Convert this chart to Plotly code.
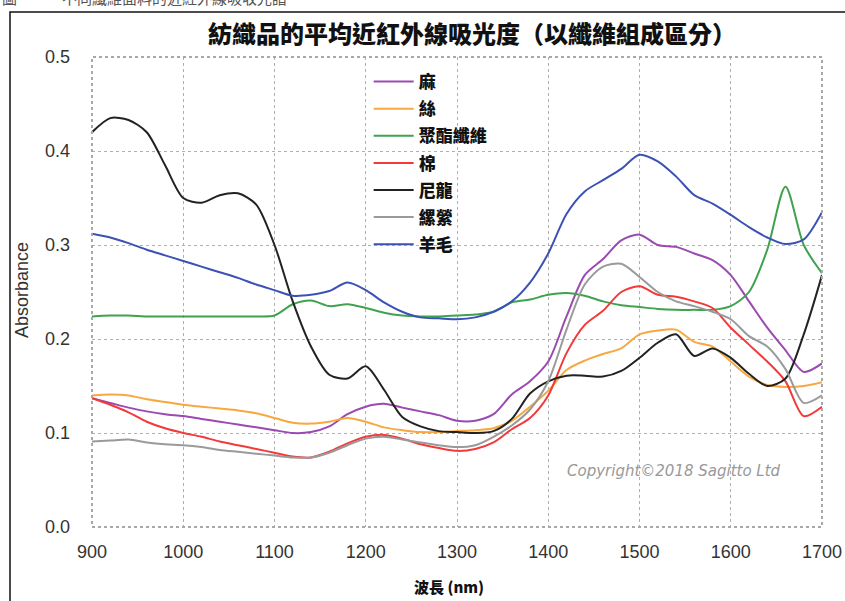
import plotly.graph_objects as go

wavelength = list(range(900, 1701, 20))

hemp = [0.137, 0.132, 0.127, 0.123, 0.120, 0.118, 0.115, 0.112, 0.109, 0.106,
        0.103, 0.100, 0.101, 0.107, 0.120, 0.128, 0.131, 0.127, 0.123, 0.119,
        0.113, 0.113, 0.120, 0.141, 0.155, 0.176, 0.224, 0.268, 0.285, 0.305,
        0.311, 0.300, 0.298, 0.291, 0.284, 0.268, 0.240, 0.212, 0.188, 0.165, 0.174]
silk = [0.140, 0.141, 0.140, 0.136, 0.133, 0.130, 0.128, 0.126, 0.124, 0.121,
        0.116, 0.111, 0.110, 0.112, 0.116, 0.112, 0.106, 0.103, 0.101, 0.101,
        0.102, 0.103, 0.105, 0.113, 0.128, 0.145, 0.167, 0.177, 0.184, 0.190,
        0.205, 0.209, 0.210, 0.197, 0.192, 0.176, 0.160, 0.151, 0.149, 0.150, 0.154]
polyester = [0.224, 0.225, 0.225, 0.224, 0.224, 0.224, 0.224, 0.224, 0.224, 0.224,
             0.225, 0.237, 0.241, 0.235, 0.237, 0.233, 0.228, 0.225, 0.224, 0.224,
             0.225, 0.226, 0.229, 0.239, 0.242, 0.247, 0.249, 0.246, 0.240, 0.236,
             0.234, 0.232, 0.231, 0.231, 0.231, 0.235, 0.250, 0.295, 0.362, 0.300, 0.270]
cotton = [0.137, 0.130, 0.122, 0.112, 0.105, 0.100, 0.096, 0.091, 0.087, 0.083,
          0.079, 0.075, 0.074, 0.080, 0.089, 0.096, 0.098, 0.094, 0.088, 0.084,
          0.081, 0.083, 0.090, 0.104, 0.116, 0.140, 0.185, 0.215, 0.230, 0.250,
          0.256, 0.247, 0.245, 0.240, 0.233, 0.212, 0.194, 0.176, 0.155, 0.118, 0.128]
nylon = [0.420, 0.435, 0.433, 0.420, 0.385, 0.350, 0.345, 0.353, 0.355, 0.343,
         0.300, 0.240, 0.192, 0.162, 0.158, 0.171, 0.146, 0.117, 0.107, 0.102,
         0.101, 0.100, 0.102, 0.115, 0.142, 0.155, 0.161, 0.161, 0.160, 0.166,
         0.180, 0.196, 0.205, 0.182, 0.190, 0.180, 0.163, 0.150, 0.158, 0.205, 0.268]
rayon = [0.091, 0.092, 0.093, 0.090, 0.088, 0.087, 0.085, 0.082, 0.080, 0.078,
         0.076, 0.074, 0.074, 0.079, 0.087, 0.094, 0.096, 0.093, 0.090, 0.087,
         0.085, 0.087, 0.096, 0.108, 0.125, 0.155, 0.210, 0.258, 0.277, 0.280,
         0.266, 0.250, 0.240, 0.235, 0.229, 0.221, 0.203, 0.192, 0.168, 0.132, 0.140]
wool = [0.312, 0.308, 0.302, 0.295, 0.289, 0.283, 0.277, 0.271, 0.265, 0.258,
        0.252, 0.246, 0.247, 0.251, 0.260, 0.252, 0.239, 0.229, 0.223, 0.222,
        0.221, 0.223, 0.229, 0.240, 0.260, 0.291, 0.333, 0.357, 0.369, 0.381,
        0.396, 0.389, 0.373, 0.353, 0.344, 0.332, 0.319, 0.308, 0.301, 0.306, 0.335]

series_names = ["麻", "絲", "聚酯纖維", "棉", "尼龍", "縲縈", "羊毛"]
series_values = [hemp, silk, polyester, cotton, nylon, rayon, wool]
series_colors = ["#9a4ab0", "#f7a840", "#3fa24e", "#f23a3a", "#222222", "#9a9a9a", "#3b52b4"]

title_text = "紡織品的平均近紅外線吸光度（以纖維組成區分）"
x_title = "波長 (nm)"
y_title = "Absorbance"
copyright_text = "Copyright©2018 Sagitto Ltd"
caption_text = "圖　　　不同纖維面料的近紅外線吸收光譜"

fig = go.Figure()
for i, (name, vals, col) in enumerate(zip(series_names, series_values, series_colors)):
    fig.add_trace(go.Scatter(
        x=wavelength, y=vals, name=name, mode="lines",
        line=dict(color=col, width=2, shape="spline", smoothing=0.8),
        legendgroup=f"g{i}",
    ))

CJK = "Noto Sans CJK TC"
fig.update_layout(
    width=845, height=601,
    margin=dict(l=92, r=23, t=57, b=74, autoexpand=False),
    paper_bgcolor="white", plot_bgcolor="white",
    showlegend=True,
    legend=dict(x=0.379, y=0.985, xanchor="left", yanchor="top",
                bgcolor="rgba(0,0,0,0)", traceorder="grouped", tracegroupgap=2,
                font=dict(family=CJK, size=17, color="#111", weight=900), itemwidth=40),
    xaxis=dict(range=[900, 1700], dtick=100, tick0=900, showgrid=True,
               gridcolor="#b0b0b0", griddash="dot", gridwidth=1, automargin=False,
               zeroline=False, showline=False, ticks="",
               ticklabelstandoff=12,
               tickfont=dict(family="Liberation Sans", size=18, color="#333")),
    yaxis=dict(range=[0, 0.5], dtick=0.1, tick0=0, tickformat=".1f", showgrid=True,
               gridcolor="#b0b0b0", griddash="dot", gridwidth=1, automargin=False,
               zeroline=False, showline=False, ticks="",
               ticklabelstandoff=21,
               tickfont=dict(family="Liberation Sans", size=18, color="#333")),
)

W, H = 730.0, 470.0
def px(xp):
    return (xp - 92) / W
def py(yp):
    return (527 - yp) / H

fig.add_shape(type="rect", xref="paper", yref="paper", x0=0, y0=0, x1=1, y1=1,
              line=dict(color="#a8a8a8", width=2, dash="dot"), layer="above")
fig.add_shape(type="path", xref="paper", yref="paper",
              path=f"M {px(10)} {py(601)} L {px(10)} {py(12)} L {px(845)} {py(12)}",
              line=dict(color="#111", width=1.5))

fig.add_annotation(text=title_text, xref="paper", yref="paper",
                   x=px(472), y=py(33), showarrow=False, xanchor="center", yanchor="middle",
                   font=dict(family=CJK, size=24, color="#111", weight=900))
fig.add_annotation(text=x_title, xref="paper", yref="paper",
                   x=px(449), y=py(586), showarrow=False, xanchor="center", yanchor="middle",
                   font=dict(family=CJK, size=15, color="#111", weight=900))
fig.add_annotation(text=y_title, xref="paper", yref="paper", textangle=-90,
                   x=px(22), y=py(290), showarrow=False, xanchor="center", yanchor="middle",
                   font=dict(family="Liberation Sans", size=18, color="#333"))
fig.add_annotation(text=f"<i>{copyright_text}</i>", xref="paper", yref="paper",
                   x=px(674), y=py(471), showarrow=False, xanchor="center", yanchor="middle",
                   font=dict(family="DejaVu Sans", size=15, color="#999"))
fig.add_annotation(text=caption_text, xref="paper", yref="paper",
                   x=px(0), y=py(-3), showarrow=False, xanchor="left", yanchor="middle",
                   font=dict(family=CJK, size=15, color="#555"))

fig.write_html("out.html", config={"displayModeBar": False},
               post_script="document.body.style.margin='0px';document.body.style.overflow='hidden';")
